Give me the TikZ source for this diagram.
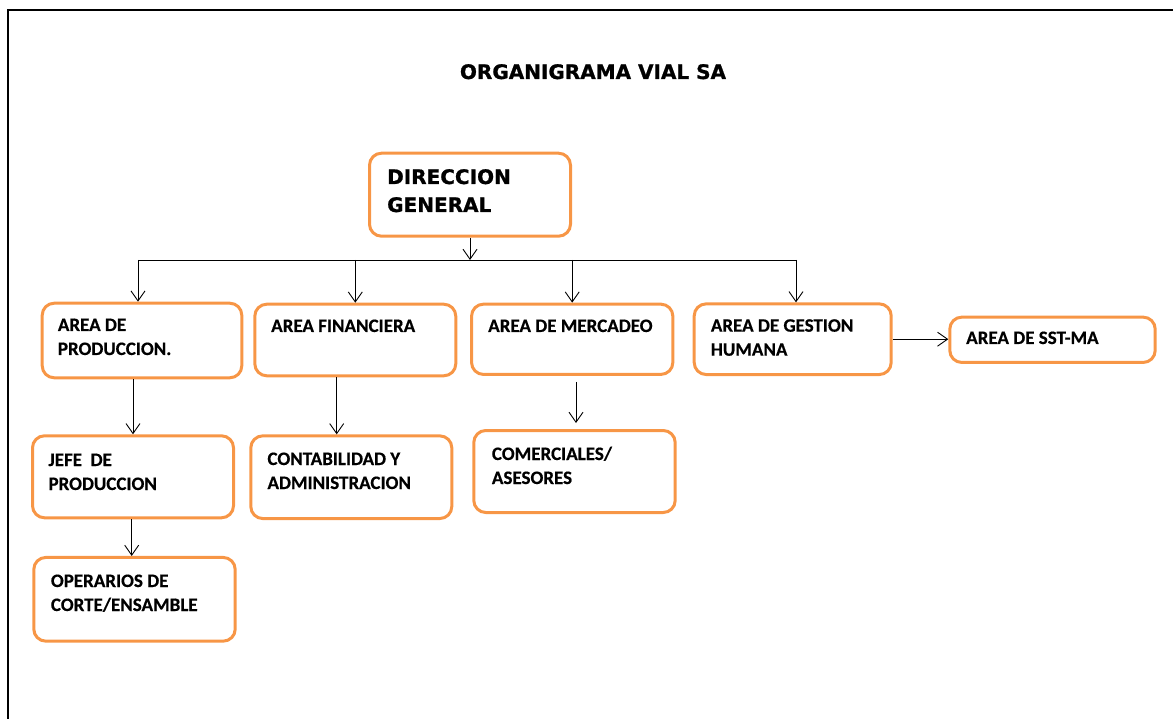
\documentclass[tikz,border=0pt]{standalone}
\usepackage{fontspec}
\setmainfont{Carlito}[BoldFeatures={FakeBold=0.5}]
\newfontfamily\titulofont{DejaVu Sans}[BoldFeatures={FakeBold=1}]
\usetikzlibrary{arrows.meta}
\definecolor{naranja}{RGB}{247,150,70}

\begin{document}
\begin{tikzpicture}[x=1pt,y=-1pt,
  caja/.style={draw=naranja,line width=3pt,rounded corners=12pt,inner sep=0pt},
  texto/.style={anchor=base west,align=left,inner sep=0pt,font=\fontsize{19}{24}\selectfont\bfseries},
  titulo/.style={inner sep=0pt,font={\titulofont\bfseries\fontsize{20}{28}\selectfont}},
  flecha/.style={line width=0.9pt,-{Straight Barb[length=10pt,width=14pt]}}]
\useasboundingbox (0,0) rectangle (1173,719);

%%% Frame
\draw[line width=2pt] (7.5,719) -- (7.5,10) -- (1173,10);

%%% Title
\node[titulo,anchor=base] (tit) at (593,79) {ORGANIGRAMA VIAL SA};

%%% Boxes
\node[caja,minimum width=201pt,minimum height=83pt] (dg) at (470,194.7) {};
\node[caja,minimum width=199.6pt,minimum height=74.6pt] (prod) at (142,340.5) {};
\node[caja,minimum width=201pt,minimum height=71.6pt] (fin) at (355.3,340) {};
\node[caja,minimum width=201.3pt,minimum height=70.3pt] (merc) at (572.2,339.3) {};
\node[caja,minimum width=197pt,minimum height=70.7pt] (gh) at (792.7,339.2) {};
\node[caja,minimum width=205.4pt,minimum height=45.3pt] (sst) at (1052.5,339.8) {};
\node[caja,minimum width=201pt,minimum height=82pt] (jefe) at (133,476.8) {};
\node[caja,minimum width=201pt,minimum height=82.7pt] (cont) at (351.3,477.2) {};
\node[caja,minimum width=201.4pt,minimum height=82pt] (com) at (574.5,471.5) {};
\node[caja,minimum width=201.4pt,minimum height=83.7pt] (oper) at (134.5,599.3) {};

%%% Texts (base = last line)
\node[titulo,anchor=base west,align=left] (tdg) at (387,212) {DIRECCION\\GENERAL};
\node[texto] (tprod) at (57.7,355) {AREA DE\\PRODUCCION.};
\node[texto] (tfin) at (271,332) {AREA FINANCIERA};
\node[texto] (tmerc) at (488,332) {AREA DE MERCADEO};
\node[texto] (tgh) at (710.7,355.7) {AREA DE GESTION\\HUMANA};
\node[texto] (tsst) at (966,344) {AREA DE SST-MA};
\node[texto] (tjefe) at (48.3,490) {JEFE\ \ DE\\PRODUCCION};
\node[texto] (tcont) at (267.3,489) {CONTABILIDAD Y\\ADMINISTRACION};
\node[texto] (tcom) at (491.7,484) {COMERCIALES/\\ASESORES};
\node[texto] (toper) at (50.7,611) {OPERARIOS DE\\CORTE/ENSAMBLE};

%%% Connectors
\coordinate (bus) at (470,260);
\draw[flecha] (dg) -- (bus);
\draw[line width=0.9pt] ([xshift=-4pt]prod.north |- bus) -- ([xshift=3.3pt]gh.north |- bus);
\draw[flecha] ([xshift=-4pt]prod.north |- bus) -- ([xshift=-4pt]prod.north);
\draw[flecha] (fin.north |- bus) -- (fin.north);
\draw[flecha] (merc.north |- bus) -- (merc.north);
\draw[flecha] ([xshift=3.3pt]gh.north |- bus) -- ([xshift=3.3pt]gh.north);
\draw[flecha] (gh.east) -- (gh.east -| sst.west);
\draw[flecha] (prod.south -| jefe.north) -- (jefe.north);
\draw[flecha] ([xshift=-1.3pt]jefe.south) -- ([xshift=-1.3pt]jefe.south |- oper.north);
\draw[flecha] ([xshift=-18.6pt]fin.south) -- ([xshift=-18.6pt]fin.south |- cont.north);
\draw[flecha,shorten <=6pt,shorten >=6pt] ([xshift=3.8pt]merc.south) -- ([xshift=3.8pt]merc.south |- com.north);
\end{tikzpicture}
\end{document}
